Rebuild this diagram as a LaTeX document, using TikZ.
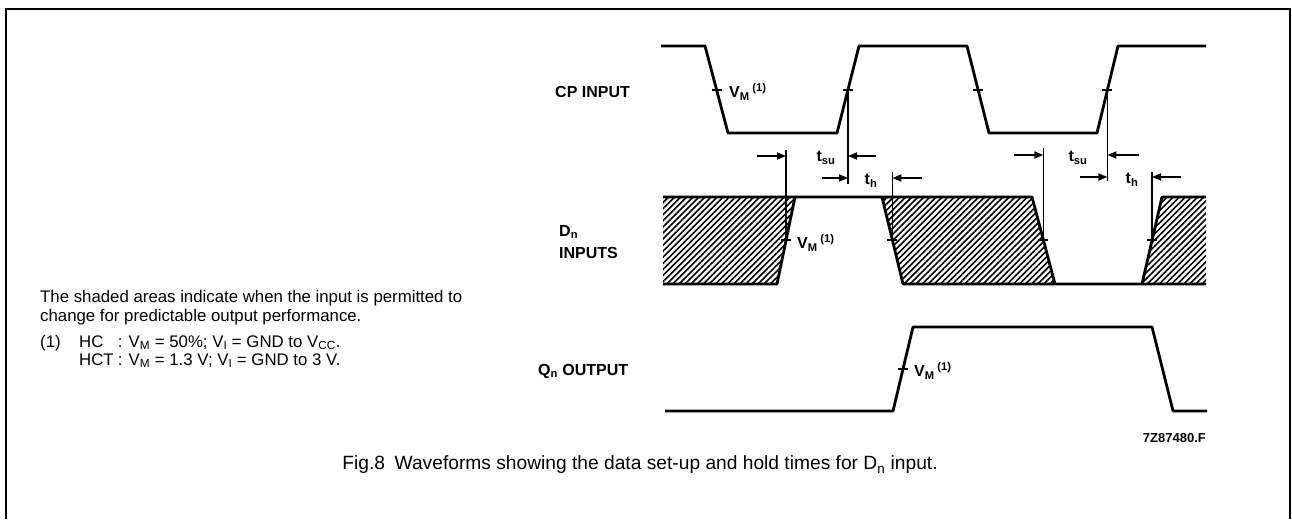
\documentclass[tikz,border=0pt]{standalone}
\usepackage{fontspec}
\setmainfont{Liberation Sans}
\usetikzlibrary{patterns.meta,arrows.meta}
\begin{document}
\begin{tikzpicture}[x=1pt,y=-1pt,
  wave/.style={line width=2.8pt,line join=round},
  guide/.style={line width=1.3pt},
  vtick/.style={line width=1.3pt},
  hatch/.style={pattern={Lines[angle=45,distance=4.3pt,line width=1.6pt]}},
  dimarrow/.style={line width=1.8pt,-{Triangle[length=9pt,width=7pt]}},
  sig/.style={font=\bfseries\fontsize{16}{18}\selectfont,inner sep=0pt},
  note/.style={font=\fontsize{16.8}{20}\selectfont,inner sep=0pt,anchor=base west},
  capt/.style={font=\fontsize{19.2}{23}\selectfont,inner sep=0pt}]
\useasboundingbox (0,0) rectangle (1292,519);
\draw[line width=1.5pt] (6,519) -- (6,9) -- (1290,9) -- (1290,519);

% ---------- CP input
\draw[wave] (661,46) -- (705,46) -- (728,133) -- (837,133) -- (859,46) -- (967,46)
  -- (989,133) -- (1097,133) -- (1118,46) -- (1206,46);
\coordinate (cpf1) at (716.6,90);
\coordinate (cpr1) at (848,90);
\coordinate (cpf2) at (978,90);
\coordinate (cpr2) at (1107.4,90);
\foreach \c in {cpf1,cpr1,cpf2,cpr2}
  \draw[vtick] ([xshift=-5pt]\c) -- ([xshift=5pt]\c);

% ---------- Dn inputs
\fill[hatch] (663,197) -- (795,197) -- (777,284) -- (663,284) -- cycle;
\fill[hatch] (882,197) -- (1032,197) -- (1055,284) -- (903,284) -- cycle;
\fill[hatch] (1162,197) -- (1206,197) -- (1206,284) -- (1142,284) -- cycle;
\draw[wave] (663,197) -- (1032,197) -- (1055,284);
\draw[wave] (663,284) -- (777,284) -- (795,197);
\draw[wave] (882,197) -- (903,284) -- (1206,284);
\draw[wave] (1142,284) -- (1162,197) -- (1206,197);
\coordinate (dr1) at (786,240);
\coordinate (df1) at (892.4,240);
\coordinate (df2) at (1043.4,240);
\coordinate (dr2) at (1152,240);
\foreach \c in {dr1,df1,df2,dr2}
  \draw[vtick] ([xshift=-5pt]\c) -- ([xshift=5pt]\c);

% ---------- Qn output
\draw[wave] (665,411) -- (893,411) -- (913,327) -- (1152,327) -- (1173,411) -- (1207,411);
\coordinate (qr1) at (903,369);
\draw[vtick] ([xshift=-5pt]qr1) -- ([xshift=5pt]qr1);

% ---------- timing references
\coordinate (g1) at (786,150);
\coordinate (g2) at (848,184);
\coordinate (g3) at (892.4,172);
\coordinate (g4) at (1043.4,148);
\coordinate (g5) at (1107.4,181);
\coordinate (g6) at (1152,172);
\draw[guide] (dr1) -- (g1);
\draw[guide] (cpr1) -- (g2);
\draw[guide] (df1) -- (g3);
\draw[guide] (df2) -- (g4);
\draw[guide] (cpr2) -- (g5);
\draw[guide] (dr2) -- (g6);

\coordinate (a1) at (757,156);
\coordinate (a2) at (876,156);
\coordinate (a3) at (822,178);
\coordinate (a4) at (922,178);
\coordinate (a5) at (1014,155);
\coordinate (a6) at (1139,155);
\coordinate (a7) at (1080,177);
\coordinate (a8) at (1181,177);
\draw[dimarrow] (a1) -- (a1 -| g1);
\draw[dimarrow] (a2) -- (a2 -| g2);
\draw[dimarrow] (a3) -- (a3 -| g2);
\draw[dimarrow] (a4) -- (a4 -| g3);
\draw[dimarrow] (a5) -- (a5 -| g4);
\draw[dimarrow] (a6) -- (a6 -| g5);
\draw[dimarrow] (a7) -- (a7 -| g5);
\draw[dimarrow] (a8) -- (a8 -| g6);

\node[sig] (tsu1) at (826,158) {t\textsubscript{su}};
\node[sig] (th1) at (871,181) {t\textsubscript{h}};
\node[sig] (tsu2) at (1078,158) {t\textsubscript{su}};
\node[sig] (th2) at (1132,180) {t\textsubscript{h}};

% ---------- VM labels
\node[sig,anchor=west] (vm1) at (729,92) {V\textsubscript{M}\,\textsuperscript{(1)}};
\node[sig,anchor=west] (vm2) at (797,243) {V\textsubscript{M}\,\textsuperscript{(1)}};
\node[sig,anchor=west] (vm3) at (914,371) {V\textsubscript{M}\,\textsuperscript{(1)}};

% ---------- signal names
\node[sig,anchor=west] (cp) at (555,92) {CP INPUT};
\node[sig,anchor=west] (dn) at (559,232) {D\textsubscript{n}};
\node[sig,anchor=west] (dnin) at (559,253) {INPUTS};
\node[sig,anchor=west] (qn) at (538,371) {Q\textsubscript{n} OUTPUT};
\node[sig,anchor=east,font=\bfseries\fontsize{13}{15}\selectfont] (code) at (1206,438) {7Z87480.F};

% ---------- notes
\node[note] (n1) at (40,302) {The shaded areas indicate when the input is permitted to};
\node[note] (n2) at (40,321) {change for predictable output performance.};
\node[note] (n3) at (40,347) {(1)\hspace{1.1em}\makebox[2.3em][l]{HC}: V\textsubscript{M} = 50\%; V\textsubscript{I} = GND to V\textsubscript{CC}.};
\node[note] (n4) at (40,365) {\hphantom{(1)}\hspace{1.1em}\makebox[2.3em][l]{HCT}: V\textsubscript{M} = 1.3 V; V\textsubscript{I} = GND to 3 V.};

% ---------- caption
\node[capt] (cap) at (640,465) {Fig.8\enspace Waveforms showing the data set-up and hold times for D\textsubscript{n} input.};
\end{tikzpicture}
\end{document}
